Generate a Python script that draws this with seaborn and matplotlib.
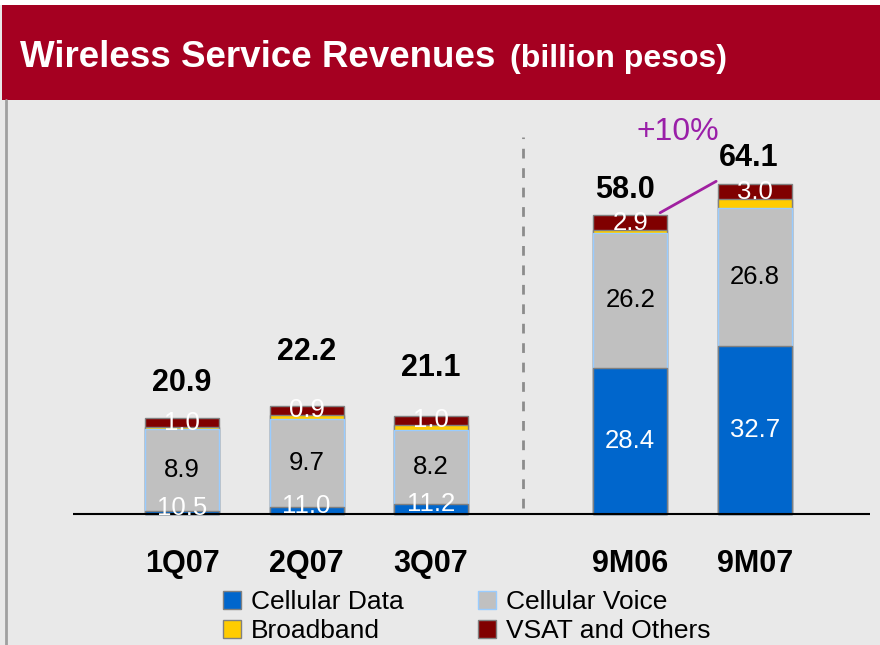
import matplotlib
matplotlib.use('Agg')
import matplotlib.pyplot as plt
from matplotlib import font_manager
from matplotlib.patches import Rectangle, Patch
from matplotlib.lines import Line2D
import pandas as pd
import seaborn as sns

# categories and where the bars sit (gap before the nine-month bars)
periods = ['1Q07', '2Q07', '3Q07', '9M06', '9M07']
positions = [0, 1, 2, 3.6, 4.6]

# segment heights as drawn in the source chart
cell_data = [0.65, 1.4, 1.9, 28.4, 32.7]
cell_voice = [15.9, 17.0, 14.4, 26.2, 26.8]
broadband = [0.35, 0.9, 1.0, 0.5, 1.6]
vsat = [1.65, 1.6, 1.75, 2.9, 3.0]

# printed labels
total_lbl = ['20.9', '22.2', '21.1', '58.0', '64.1']
data_lbl = ['10.5', '11.0', '11.2', '28.4', '32.7']
voice_lbl = ['8.9', '9.7', '8.2', '26.2', '26.8']
vsat_lbl = ['1.0', '0.9', '1.0', '2.9', '3.0']
growth_lbl = '+10%'
series_names = ['Cellular Data', 'Cellular Voice', 'Broadband', 'VSAT and Others']

# layout tweaks for label placement
total_gap = [6.85, 10.6, 9.25, 4.9, 5.0]
total_dx = [0, 0, 0, -0.04, -0.05]

c_data, c_voice, c_bb, c_vsat = '#0066CC', '#C0C0C0', '#FFCC00', '#800000'
bg = '#E9E9E9'

sns.set_style('white')
plt.rcParams['font.family'] = ['Liberation Sans', 'DejaVu Sans']
plt.rcParams['text.color'] = 'black'
installed = {f.name for f in font_manager.fontManager.ttflist}
narrow = 'Liberation Sans Narrow' if 'Liberation Sans Narrow' in installed else 'Liberation Sans'
leg_size = 22 if narrow == 'Liberation Sans Narrow' else 19

df = pd.DataFrame({'period': periods, 'pos': positions, 'data': cell_data,
                   'voice': cell_voice, 'bb': broadband, 'vsat': vsat})
df['c1'] = df['data']
df['c2'] = df['c1'] + df['voice']
df['c3'] = df['c2'] + df['bb']
df['c4'] = df['c3'] + df['vsat']

fig = plt.figure(figsize=(8.8, 6.45), dpi=100, facecolor=bg)

# header band
fig.add_artist(Rectangle((0, 640 / 645), 1, 5 / 645, transform=fig.transFigure,
                         facecolor='white', edgecolor='none'))
fig.add_artist(Rectangle((2 / 880, 545 / 645), 1, 95 / 645, transform=fig.transFigure,
                         facecolor='#A50021', edgecolor='none'))
fig.text(20 / 880, (645 - 67) / 645, 'Wireless Service Revenues', color='white',
         fontsize=26.5, weight='bold', va='baseline', ha='left')
fig.text(510 / 880, (645 - 67) / 645, '(billion pesos)', color='white',
         fontsize=23, weight='bold', va='baseline', ha='left')
fig.add_artist(Line2D([6 / 880, 6 / 880], [0, 545 / 645], transform=fig.transFigure,
                      color='#A0A0A0', lw=2))

ax = fig.add_axes([0, 0, 1, 545 / 645])

# stacked bars drawn as overlapping cumulative totals
layers = [('c4', c_vsat, '#808080'), ('c3', c_bb, '#808080'),
          ('c2', c_voice, '#99CCFF'), ('c1', c_data, '#808080')]
for col, fc, ec in layers:
    sns.barplot(data=df, x='pos', y=col, native_scale=True, orient='x', color=fc,
                saturation=1, edgecolor=ec, linewidth=1, width=0.594,
                errorbar=None, ax=ax, zorder=2)

ax.set_xlim(-1.462, 5.606)
ax.set_ylim(-25.44, 80.39)
ax.axis('off')

ax.hlines(0, -0.875, 5.526, color='black', lw=1.5, zorder=3)
ax.vlines(2.737, 1.2, 73.2, colors='#8C8C8C', linestyles=(0, (3.5, 3.5)), lw=2)

for i, row in df.iterrows():
    x = row['pos']
    if row['data'] > 5:
        dy = row['data'] / 2
    else:
        dy = row['data'] / 2 + 0.9
    ax.text(x, dy, data_lbl[i], ha='center', va='center', fontsize=18.5,
            color='white', zorder=4)
    ax.text(x, row['c1'] + row['voice'] / 2, voice_lbl[i], ha='center', va='center',
            fontsize=18.5, color='black', zorder=4)
    ax.text(x, row['c4'] - row['vsat'] / 2, vsat_lbl[i], ha='center', va='center',
            fontsize=18.5, color='white', zorder=4)
    ax.text(x + total_dx[i], row['c4'] + total_gap[i], total_lbl[i], ha='center',
            va='center', fontsize=22, weight='bold', color='black', zorder=4)
    ax.text(x, -9.8, periods[i], ha='center', va='center', fontsize=22,
            weight='bold', color='black')

# growth marker between the nine-month totals
ax.plot([positions[3] + 0.24, positions[4] - 0.31],
        [df['c4'][3] + 0.5, df['c4'][4] + 0.5], color='#A020A0', lw=2, zorder=4)
ax.text(3.98, 74.2, growth_lbl, ha='center', va='center', fontsize=23, color='#9A1FA8')

handles = [Patch(facecolor=c_data, edgecolor='#808080'),
           Patch(facecolor=c_bb, edgecolor='#808080'),
           Patch(facecolor=c_voice, edgecolor='#99CCFF'),
           Patch(facecolor=c_vsat, edgecolor='#808080')]
labels = [series_names[0], series_names[2], series_names[1], series_names[3]]
fig.legend(handles, labels, ncol=2, loc='upper left',
           bbox_to_anchor=(223 / 880, (645 - 590) / 645), frameon=False,
           prop={'family': narrow, 'size': leg_size}, handlelength=0.68,
           handleheight=0.68, handletextpad=0.38, columnspacing=2.8,
           labelspacing=0.2, borderpad=0, borderaxespad=0)

fig.savefig('out.png', dpi=100, facecolor=bg)
